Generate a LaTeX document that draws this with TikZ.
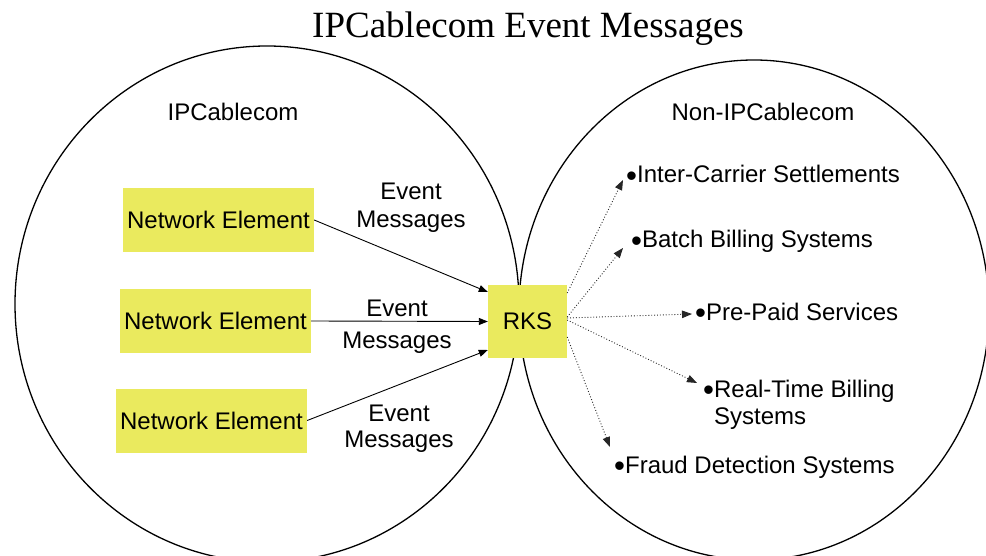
\documentclass[tikz,border=0pt]{standalone}
\usepackage{fontspec}
\setmainfont{Liberation Serif}
\newfontfamily\arialf{Liberation Sans}
\usetikzlibrary{arrows.meta}
\definecolor{boxyellow}{RGB}{234,234,94}
\newcommand\itembul{\raisebox{-3.2pt}{\scalebox{1.3}{•}}}
\tikzset{
  sanstext/.style={font=\arialf\fontsize{24}{28}\selectfont, inner sep=0pt},
  nebox/.style={sanstext, fill=boxyellow, minimum width=191pt, minimum height=64pt},
  rksbox/.style={sanstext, fill=boxyellow, minimum width=79pt, minimum height=73pt},
  ring/.style={draw=black, line width=1.3pt},
  solidarrow/.style={draw=black, line width=0.9pt, -{Triangle[length=9pt,width=7pt]}},
  dotarrow/.style={draw=black!85, line width=0.9pt, dotted, -{Triangle[length=10pt,width=7.5pt]}},
  itemtext/.style={sanstext, anchor=base west},
}
\begin{document}
\begin{tikzpicture}[x=1pt,y=-1pt]
\useasboundingbox (0,0) rectangle (986,556);
\clip (0,0) rectangle (986,556);
% title
\node[font=\fontsize{37}{40}\selectfont, anchor=base, inner sep=0pt] (title) at (528,38) {IPCablecom Event Messages};
% domains
\draw[ring] (267,304) ellipse [x radius=252, y radius=258];
\draw[ring] (754,310) ellipse [x radius=235, y radius=250];
\node[sanstext, anchor=base] (lefthead) at (233,121) {IPCablecom};
\node[sanstext, anchor=base] (righthead) at (763,121) {Non-IPCablecom};
% network elements
\node[nebox] (ne1) at (218.5,220) {Network Element};
\node[nebox] (ne2) at (215.5,321) {Network Element};
\node[nebox] (ne3) at (211.5,420.5) {Network Element};
\node[rksbox] (rks) at (527.5,321.5) {RKS};
% solid arrows
\draw[solidarrow] (ne1.east) -- ([yshift=29.5pt]rks.west);
\draw[solidarrow] (ne2.east) -- (rks.west);
\draw[solidarrow] (ne3.east) -- ([yshift=-28.5pt]rks.west);
% arrow labels
\node[sanstext, align=center] (lab1) at (411,208) {Event\\Messages};
\node[sanstext, align=center, font=\arialf\fontsize{24}{32}\selectfont] (lab2) at (397,327) {Event\\Messages};
\node[sanstext, align=center, font=\arialf\fontsize{24}{26}\selectfont] (lab3) at (399,429) {Event\\Messages};
% destinations
\node[itemtext] (it1) at (626,183) {\itembul Inter-Carrier Settlements};
\node[itemtext] (it2) at (631,248) {\itembul Batch Billing Systems};
\node[itemtext] (it3) at (695,320) {\itembul Pre-Paid Services};
\node[sanstext, anchor=north west, align=left, font=\arialf\fontsize{24}{27}\selectfont] (it4) at (703,380) {\itembul Real-Time Billing\\\hphantom{\itembul}Systems};
\node[itemtext] (it5) at (614,473) {\itembul Fraud Detection Systems};
\coordinate (t1) at (623,180);
\coordinate (t2) at (623,248);
\coordinate (t3) at (692,314);
\coordinate (t4) at (697,383);
\coordinate (t5) at (610,447);
\draw[dotarrow] ([yshift=28.5pt]rks.east) -- (t1);
\draw[dotarrow] ([yshift=4.5pt]rks.east) -- (t2);
\draw[dotarrow] ([yshift=3.5pt]rks.east) -- (t3);
\draw[dotarrow] ([yshift=1.5pt]rks.east) -- (t4);
\draw[dotarrow] ([yshift=-15.5pt]rks.east) -- (t5);
\end{tikzpicture}
\end{document}
